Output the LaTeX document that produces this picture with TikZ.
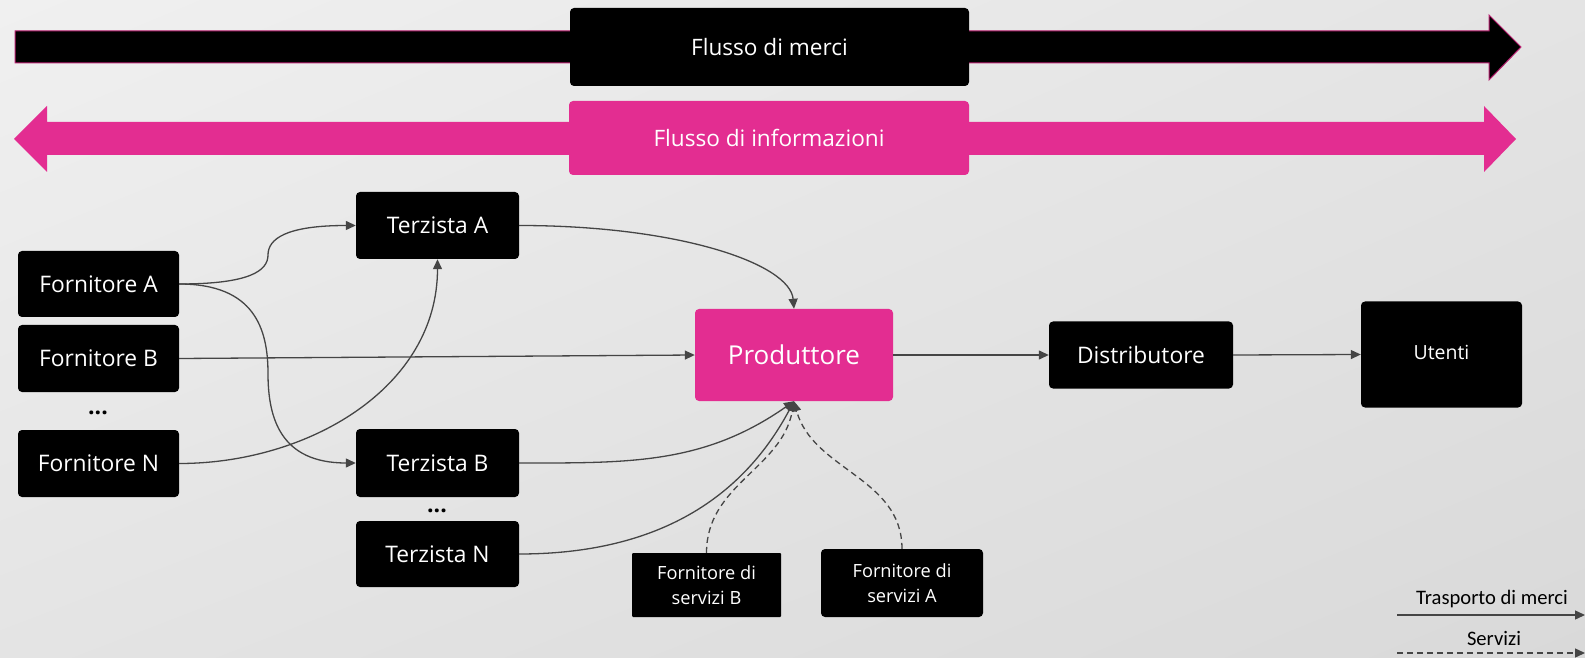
\documentclass[tikz,border=0pt]{standalone}
\usepackage{fontspec}
\setmainfont{Open Sans}
\newfontfamily\legendfont{Carlito}
\usetikzlibrary{arrows.meta,shadings}
\definecolor{pinkc}{HTML}{E32D91}
\definecolor{pinkedge}{HTML}{B8206F}
\definecolor{linec}{HTML}{454545}
\definecolor{bgTL}{HTML}{F0F0F0}
\definecolor{bgTR}{HTML}{E4E4E4}
\definecolor{bgBL}{HTML}{E4E4E4}
\definecolor{bgBR}{HTML}{D9D9D9}
\begin{document}
\begin{tikzpicture}[x=1pt,y=1pt,
  box/.style={fill=black,text=white,rounded corners=4pt,inner sep=0pt,align=center,
    font=\fontsize{22.8}{27}\selectfont},
  conn/.style={draw=linec,line width=1.3pt,-{Triangle[length=10pt,width=9pt]}},
  svc/.style={conn,dash pattern=on 6pt off 4pt},
  dots/.style={font=\fontsize{23}{27}\selectfont\bfseries,inner sep=0pt,anchor=base}]
\useasboundingbox (0,0) rectangle (1585,657);
\shade[upper left=bgTL,upper right=bgTR,lower left=bgBL,lower right=bgBR] (0,0) rectangle (1585,657);

% big flow arrows
\filldraw[fill=black,draw=pinkedge,line width=1pt]
  (15,626) -- (1489,626) -- (1489,642) -- (1521,610) -- (1489,577) -- (1489,594) -- (15,594) -- cycle;
\fill[pinkc]
  (14,518) -- (47,551) -- (47,535) -- (1484,535) -- (1484,551) -- (1516,518)
  -- (1484,485) -- (1484,502) -- (47,502) -- (47,485) -- cycle;
\node[box,minimum width=399pt,minimum height=78pt,font=\fontsize{22.6}{27}\selectfont] (fm) at (769.5,610) {Flusso di merci};
\node[box,fill=pinkc,minimum width=400pt,minimum height=74pt,font=\fontsize{22.6}{27}\selectfont] (fi) at (769,519) {Flusso di informazioni};

% nodes
\node[box,minimum width=161pt,minimum height=66pt] (fa) at (98.5,373) {Fornitore A};
\node[box,minimum width=161pt,minimum height=67pt] (fb) at (98.5,298.5) {Fornitore B};
\node[dots] (d1) at (98,243) {...};
\node[box,minimum width=161pt,minimum height=67pt] (fn) at (98.5,193.5) {Fornitore N};
\node[box,minimum width=163pt,minimum height=67pt] (ta) at (437.5,431.5) {Terzista A};
\node[box,minimum width=163pt,minimum height=68pt] (tb) at (437.5,194) {Terzista B};
\node[dots] (d2) at (437,145) {...};
\node[box,minimum width=163pt,minimum height=66pt] (tn) at (437.5,103) {Terzista N};
\node[box,fill=pinkc,minimum width=198pt,minimum height=92pt,font=\fontsize{26}{30}\selectfont] (p) at (794,302) {Produttore};
\node[box,minimum width=184pt,minimum height=67pt] (d) at (1141,302) {Distributore};
\node[box,minimum width=161pt,minimum height=106pt] (u) at (1441.5,302.5) {};
\node[font=\fontsize{19.5}{23}\selectfont,text=white,inner sep=0pt] (ut) at (1441.5,305) {Utenti};
\node[box,rounded corners=1pt,minimum width=149pt,minimum height=64pt,font=\fontsize{18.2}{25}\selectfont] (sb) at (706.5,72) {Fornitore di\\servizi B};
\node[box,minimum width=162pt,minimum height=68pt,font=\fontsize{18.2}{25}\selectfont] (sa) at (902,74) {Fornitore di\\servizi A};

% connectors
\draw[conn] (fa.east) .. controls +(70,0) and +(0,-16) .. (268,402)
                      .. controls +(0,16) and +(-70,0) .. (ta.west);
\draw[conn] (fa.east) .. controls +(75,0) and +(0,45) .. (268,283.5)
                      .. controls +(0,-45) and +(-75,0) .. (tb.west);
\draw[conn] (fb.east) -- (p.west);
\draw[conn] (fn.east) to[out=0,in=-90] (ta.south);
\draw[conn] (ta.east) .. controls +(160,0) and +(-4,45) .. (p.north);
\draw[conn] (tb.east) to[out=0,in=-145] (p.south);
\draw[conn] (tn.east) to[out=0,in=-118] (p.south);
\draw[svc] (sb.north) to[out=90,in=-100] (p.south);
\draw[svc] (sa.north) to[out=90,in=-75] (p.south);
\draw[conn] (p.east) -- (d.west);
\draw[conn] (d.east) -- (u.west);

% legend
\node[font=\legendfont\fontsize{20.6}{24}\selectfont,inner sep=0pt] (lt) at (1492,58) {Trasporto di merci};
\node[font=\legendfont\fontsize{20.6}{24}\selectfont,inner sep=0pt] (ls) at (1494,19) {Servizi};
\coordinate (l1s) at (1397,42);
\coordinate (l1e) at (1585,42);
\coordinate (l2s) at (1397,4);
\coordinate (l2e) at (1585,4);
\draw[conn] (l1s) -- (l1e);
\draw[svc] (l2s) -- (l2e);
\end{tikzpicture}
\end{document}
